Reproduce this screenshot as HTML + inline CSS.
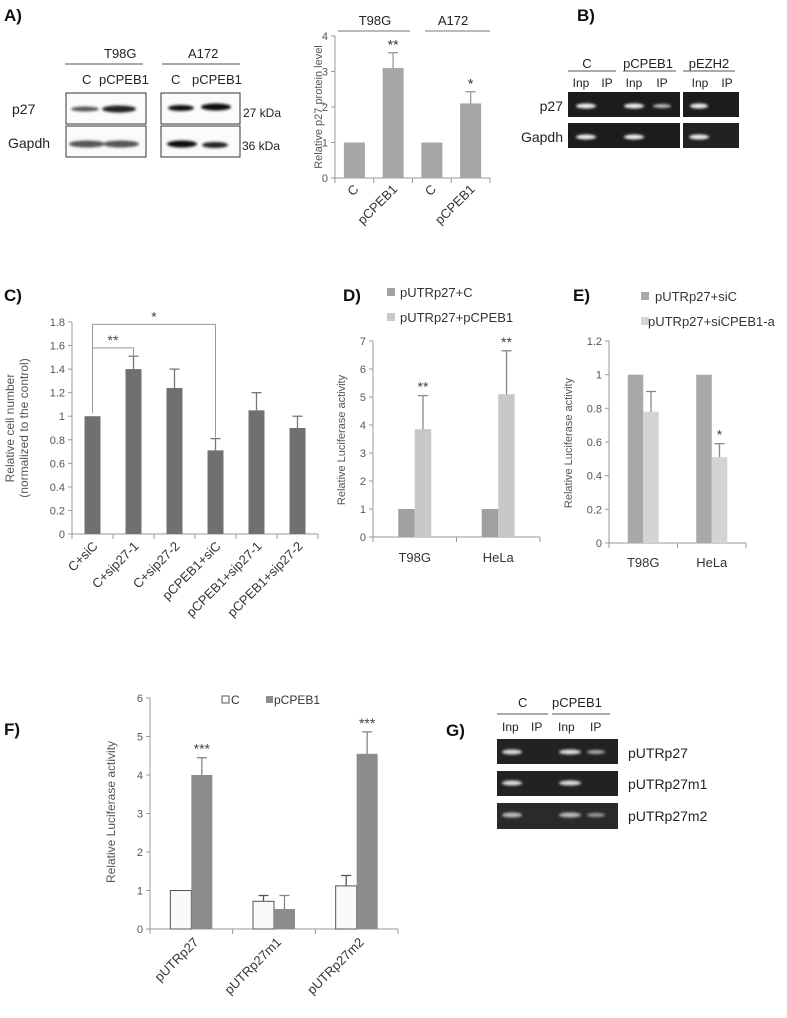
<!DOCTYPE html>
<html><head><meta charset="utf-8"><style>
html,body{margin:0;padding:0;background:#fff}
svg{display:block;font-family:"Liberation Sans",sans-serif}
</style></head><body>
<svg id="fig" width="787" height="1018" viewBox="0 0 787 1018">
<defs>
<filter id="blur"><feGaussianBlur stdDeviation="1.2"/></filter>
</defs>
<g font-weight="bold" font-size="17" fill="#111">
<text x="4" y="21">A)</text>
<text x="577" y="21">B)</text>
<text x="4" y="301">C)</text>
<text x="343" y="301">D)</text>
<text x="573" y="301">E)</text>
<text x="4" y="735">F)</text>
<text x="446" y="736">G)</text>
</g>
<g font-size="13" fill="#222">
<text x="104" y="58">T98G</text>
<line x1="65" y1="64" x2="143" y2="64" stroke="#555"/>
<text x="188" y="58">A172</text>
<line x1="162" y1="64" x2="240" y2="64" stroke="#555"/>
<text x="82" y="84">C</text><text x="99" y="84">pCPEB1</text>
<text x="171" y="84">C</text><text x="192" y="84">pCPEB1</text>
<text x="12" y="114" font-size="14">p27</text>
<text x="8" y="148" font-size="14">Gapdh</text>
<rect x="66" y="93" width="80" height="31" fill="#fbfbfb" stroke="#333"/>
<rect x="161" y="93" width="79" height="31" fill="#fbfbfb" stroke="#333"/>
<rect x="66" y="126" width="80" height="31" fill="#fbfbfb" stroke="#333"/>
<rect x="161" y="126" width="79" height="31" fill="#fbfbfb" stroke="#333"/>
<g filter="url(#blur)">
<ellipse cx="85" cy="109" rx="14" ry="2.5" fill="#555"/>
<ellipse cx="119" cy="109" rx="17" ry="3.5" fill="#222"/>
<ellipse cx="181" cy="108" rx="13" ry="3" fill="#111"/>
<ellipse cx="216" cy="107" rx="15" ry="3.5" fill="#111"/>
<ellipse cx="87" cy="144" rx="18" ry="3.5" fill="#555"/>
<ellipse cx="121" cy="144" rx="18" ry="3.5" fill="#555"/>
<ellipse cx="182" cy="144" rx="15" ry="3.5" fill="#111"/>
<ellipse cx="215" cy="145" rx="13" ry="3" fill="#222"/>
</g>
<text x="243" y="117" font-size="12">27 kDa</text>
<text x="242" y="150" font-size="12">36 kDa</text>
</g>
<g id="chartA"></g>
<g font-size="13" fill="#222">
<text x="587" y="68" text-anchor="middle">C</text><line x1="568" y1="71" x2="616" y2="71" stroke="#555"/>
<text x="648" y="68" text-anchor="middle">pCPEB1</text><line x1="623" y1="71" x2="676" y2="71" stroke="#555"/>
<text x="709" y="68" text-anchor="middle">pEZH2</text><line x1="683" y1="71" x2="735" y2="71" stroke="#555"/>
<g font-size="12" text-anchor="middle"><text x="581" y="87">Inp</text><text x="607" y="87">IP</text><text x="634" y="87">Inp</text><text x="662" y="87">IP</text><text x="700" y="87">Inp</text><text x="727" y="87">IP</text></g>
<text x="563" y="111" font-size="14" text-anchor="end">p27</text>
<text x="563" y="142" font-size="14" text-anchor="end">Gapdh</text>
<rect x="568" y="92" width="112" height="25" fill="#1c1c1c"/>
<rect x="683" y="92" width="56" height="25" fill="#1c1c1c"/>
<rect x="568" y="123" width="112" height="25" fill="#1c1c1c"/>
<rect x="683" y="123" width="56" height="25" fill="#222"/>
<g filter="url(#blur)" fill="#eee">
<ellipse cx="586" cy="106" rx="10" ry="2.5"/><ellipse cx="634" cy="106" rx="10" ry="2.5"/><ellipse cx="662" cy="106" rx="9" ry="2" fill="#bbb"/>
<ellipse cx="699" cy="106" rx="9" ry="2.5"/>
<ellipse cx="586" cy="137" rx="10" ry="2.5"/><ellipse cx="634" cy="137" rx="10" ry="2.5"/><ellipse cx="699" cy="137" rx="10" ry="2.5"/>
</g>
</g>
<g id="chartC"></g>
<g id="chartD"></g>
<g id="chartE"></g>
<g id="chartF"></g>
<g font-size="13" fill="#222">
<text x="518" y="707">C</text><line x1="497" y1="714" x2="548" y2="714" stroke="#555"/>
<text x="552" y="707">pCPEB1</text><line x1="552" y1="714" x2="610" y2="714" stroke="#555"/>
<g font-size="12"><text x="502" y="731">Inp</text><text x="531" y="731">IP</text><text x="558" y="731">Inp</text><text x="590" y="731">IP</text></g>
<rect x="497" y="739" width="121" height="25" fill="#222"/>
<rect x="497" y="771" width="121" height="25" fill="#222"/>
<rect x="497" y="803" width="121" height="26" fill="#2a2a2a"/>
<g filter="url(#blur)" fill="#ddd">
<ellipse cx="512" cy="752" rx="10" ry="2.5"/><ellipse cx="570" cy="752" rx="11" ry="2.5"/><ellipse cx="596" cy="752" rx="9" ry="2" fill="#aaa"/>
<ellipse cx="512" cy="783" rx="10" ry="2.5"/><ellipse cx="570" cy="783" rx="11" ry="2.5"/>
<ellipse cx="512" cy="815" rx="10" ry="2.5" fill="#bbb"/><ellipse cx="570" cy="815" rx="11" ry="2.5" fill="#bbb"/><ellipse cx="596" cy="815" rx="9" ry="2" fill="#999"/>
</g>
<text x="628" y="758" font-size="14">pUTRp27</text>
<text x="628" y="789" font-size="14">pUTRp27m1</text>
<text x="628" y="821" font-size="14">pUTRp27m2</text>
</g>
</svg>
<script>
const aCats = ["C","pCPEB1","C","pCPEB1"];
const aVals = [1, 3.1, 1, 2.1];
const aErrs = [0, 0.43, 0, 0.33];
const aStars = ["","**","","*"];
const aTicks = [0,1,2,3,4];
const cCats = ["C+siC","C+sip27-1","C+sip27-2","pCPEB1+siC","pCPEB1+sip27-1","pCPEB1+sip27-2"];
const cVals = [1, 1.4, 1.24, 0.71, 1.05, 0.9];
const cErrs = [0, 0.11, 0.16, 0.1, 0.15, 0.1];
const cTicks = [0,0.2,0.4,0.6,0.8,1,1.2,1.4,1.6,1.8];
const dCats = ["T98G","HeLa"];
const dCtrl = [1, 1];
const dTreat = [3.85, 5.1];
const dTreatErr = [1.2, 1.55];
const dTicks = [0,1,2,3,4,5,6,7];
const eCats = ["T98G","HeLa"];
const eCtrl = [1, 1];
const eTreat = [0.78, 0.51];
const eTreatErr = [0.12, 0.08];
const eTicks = [0,0.2,0.4,0.6,0.8,1,1.2];
const fCats = ["pUTRp27","pUTRp27m1","pUTRp27m2"];
const fCtrl = [1, 0.72, 1.12];
const fCtrlErr = [0, 0.15, 0.27];
const fTreat = [4, 0.52, 4.55];
const fTreatErr = [0.45, 0.35, 0.57];
const fTicks = [0,1,2,3,4,5,6];

const NS="http://www.w3.org/2000/svg";
function mk(parent,tag,attrs,text){const e=document.createElementNS(NS,tag);for(const k in attrs)e.setAttribute(k,attrs[k]);if(text!==undefined)e.textContent=text;parent.appendChild(e);return e;}
function scale(d0,d1,r0,r1){return v=>r0+(v-d0)/(d1-d0)*(r1-r0);}

function axes(g,x0,x1,y,ticks,ny,fmt){
  const ax=mk(g,'line',{x1:x0,y1:y(ticks[0]),x2:x0,y2:y(ticks[ticks.length-1]),stroke:'#999'});
  
  
  const bx=mk(g,'line',{x1:x0,y1:y(0),x2:x1,y2:y(0),stroke:'#999'});
  
  
  ticks.forEach(t=>{
    mk(g,'line',{x1:x0-4,y1:y(t),x2:x0,y2:y(t),stroke:'#999'});
    const tl=mk(g,'text',{x:x0-7,y:y(t)+4,'text-anchor':'end','font-size':11,fill:'#555'},fmt?fmt(t):String(t));
    
    
  });
  for(let i=0;i<=ny;i++){const xx=x0+(x1-x0)*i/ny;mk(g,'line',{x1:xx,y1:y(0),x2:xx,y2:y(0)+5,stroke:'#999'});}
}
function bar(g,cx,w,v,y,fill,stroke,name){
  const r=mk(g,'rect',{x:cx-w/2,y:y(v),width:w,height:y(0)-y(v),fill:fill,stroke:stroke||'none'});
  
  
}
function err(g,cx,v,e,y,c){ if(e<=0)return; mk(g,'line',{x1:cx,y1:y(v),x2:cx,y2:y(v+e),stroke:c||'#888','stroke-width':1.3}); mk(g,'line',{x1:cx-5,y1:y(v+e),x2:cx+5,y2:y(v+e),stroke:c||'#888','stroke-width':1.3});}
function ylab(g,x,y,txt,fs){const t=mk(g,'text',{transform:`translate(${x},${y}) rotate(-90)`,'text-anchor':'middle','font-size':fs||11,fill:'#555'},txt);return t;}
function rotLab(g,x,y,txt,fs){const t=mk(g,'text',{transform:`translate(${x},${y}) rotate(-45)`,'text-anchor':'end','font-size':fs||13,fill:'#333'},txt);}

(function(){
  const g=document.getElementById('chartA');
  const y=scale(0,4,178,36);
  const x0=335,x1=490;
  axes(g,x0,x1,y,aTicks,4);
  const step=(x1-x0)/4;
  aVals.forEach((v,i)=>{
    const cx=x0+step*(i+0.5);
    bar(g,cx,21,v,y,'#a6a6a6',null,'bar-a-'+i);
    err(g,cx,v,aErrs[i],y,'#999');
    if(aStars[i]) mk(g,'text',{x:cx,y:y(v+aErrs[i])-3,'text-anchor':'middle','font-size':14,fill:'#333'},aStars[i]);
    rotLab(g,cx+5,y(0)+12,aCats[i],13);
  });
  mk(g,'text',{x:375,y:25,'text-anchor':'middle','font-size':13,fill:'#222'},'T98G');
  mk(g,'line',{x1:338,y1:31,x2:410,y2:31,stroke:'#777'});
  mk(g,'text',{x:453,y:25,'text-anchor':'middle','font-size':13,fill:'#222'},'A172');
  mk(g,'line',{x1:425,y1:31,x2:490,y2:31,stroke:'#777'});
  ylab(g,322,107,'Relative p27 protein level',11);
})();

(function(){
  const g=document.getElementById('chartC');
  const y=scale(0,1.8,534,322);
  const x0=72,x1=318;
  axes(g,x0,x1,y,cTicks,6,t=>String(+t.toFixed(1)));
  const step=(x1-x0)/6;
  cVals.forEach((v,i)=>{
    const cx=x0+step*(i+0.5);
    bar(g,cx,16,v,y,'#707070',null,'bar-c-'+i);
    err(g,cx,v,cErrs[i],y,'#777');
    rotLab(g,cx+6,y(0)+13,cCats[i],13);
  });
  const c0=x0+step*0.5,c1=x0+step*1.5,c3=x0+step*3.5;
  const yb1=y(1.58),yb2=y(1.78);
  mk(g,'polyline',{points:`${c0},${y(1)-3} ${c0},${yb1} ${c1},${yb1} ${c1},${y(1.52)}`,fill:'none',stroke:'#999'});
  mk(g,'polyline',{points:`${c0},${yb1} ${c0},${yb2} ${c3},${yb2} ${c3},${y(0.82)}`,fill:'none',stroke:'#999'});
  mk(g,'text',{x:(c0+c1)/2,y:yb1-3,'text-anchor':'middle','font-size':14,fill:'#444'},'**');
  mk(g,'text',{x:(c0+c3)/2,y:yb2-3,'text-anchor':'middle','font-size':14,fill:'#444'},'*');
  ylab(g,14,428,'Relative cell number',12);
  ylab(g,28,428,'(normalized to the control)',12);
})();

function grouped(g,x0,x1,y,cats,ctrl,ctrlErr,treat,treatErr,c1,c2,stroke1,w,stars){
  const step=(x1-x0)/cats.length;
  cats.forEach((c,i)=>{
    const cx=x0+step*(i+0.5);
    bar(g,cx-w/2,w,ctrl[i],y,c1,stroke1,'bar-ctrl-'+i);
    if(ctrlErr) err(g,cx-w/2,ctrl[i],ctrlErr[i],y,'#555');
    bar(g,cx+w/2,w,treat[i],y,c2,null,'bar-treat-'+i);
    err(g,cx+w/2,treat[i],treatErr[i],y,'#888');
    if(stars[i]) mk(g,'text',{x:cx+w/2,y:y(treat[i]+treatErr[i])-4,'text-anchor':'middle','font-size':14,fill:'#444'},stars[i]);
  });
  return step;
}
(function(){
  const g=document.getElementById('chartD');
  const y=scale(0,7,537,341);
  const x0=373,x1=540;
  axes(g,x0,x1,y,dTicks,2);
  const step=grouped(g,x0,x1,y,dCats,dCtrl,null,dTreat,dTreatErr,'#a0a0a0','#c8c8c8',null,16.5,['**','**']);
  dCats.forEach((c,i)=>{const t=mk(g,'text',{x:x0+step*(i+0.5),y:562,'text-anchor':'middle','font-size':13,fill:'#333'},c);});
  ylab(g,345,440,'Relative Luciferase activity',11);
  const l1=mk(g,'g',{});
  mk(l1,'rect',{x:387,y:288,width:8,height:8,fill:'#a0a0a0'});mk(l1,'text',{x:400,y:297,'font-size':13,fill:'#333'},'pUTRp27+C');
  const l2=mk(g,'g',{});
  mk(l2,'rect',{x:387,y:313,width:8,height:8,fill:'#c8c8c8'});mk(l2,'text',{x:400,y:322,'font-size':13,fill:'#333'},'pUTRp27+pCPEB1');
})();
(function(){
  const g=document.getElementById('chartE');
  const y=scale(0,1.2,543,341);
  const x0=609,x1=746;
  axes(g,x0,x1,y,eTicks,2,t=>String(+t.toFixed(1)));
  const step=grouped(g,x0,x1,y,eCats,eCtrl,null,eTreat,eTreatErr,'#a8a8a8','#d4d4d4',null,15.5,['','*']);
  eCats.forEach((c,i)=>{const t=mk(g,'text',{x:x0+step*(i+0.5),y:567,'text-anchor':'middle','font-size':13,fill:'#333'},c);});
  ylab(g,572,443,'Relative Luciferase activity',11);
  const l1=mk(g,'g',{});
  mk(l1,'rect',{x:641,y:292,width:8,height:8,fill:'#a8a8a8'});mk(l1,'text',{x:655,y:301,'font-size':13,fill:'#333'},'pUTRp27+siC');
  const l2=mk(g,'g',{});
  mk(l2,'rect',{x:641,y:317,width:8,height:8,fill:'#d4d4d4'});mk(l2,'text',{x:648,y:326,'font-size':13,fill:'#333'},'pUTRp27+siCPEB1-a');
})();
(function(){
  const g=document.getElementById('chartF');
  const y=scale(0,6,929,698);
  const x0=150,x1=398;
  axes(g,x0,x1,y,fTicks,3);
  const step=grouped(g,x0,x1,y,fCats,fCtrl,fCtrlErr,fTreat,fTreatErr,'#fafafa','#8c8c8c','#555',21,['***','','***']);
  fCats.forEach((c,i)=>rotLab(g,x0+step*(i+0.5)+8,y(0)+14,c,13));
  ylab(g,115,812,'Relative Luciferase activity',12);
  const l1=mk(g,'g',{});
  mk(l1,'rect',{x:222,y:696,width:7,height:7,fill:'#fff',stroke:'#555'});mk(l1,'text',{x:231,y:704,'font-size':12,fill:'#333'},'C');
  const l2=mk(g,'g',{});
  mk(l2,'rect',{x:266,y:696,width:7,height:7,fill:'#8c8c8c'});mk(l2,'text',{x:274,y:704,'font-size':12,fill:'#333'},'pCPEB1');
})();
</script>
</body></html>
